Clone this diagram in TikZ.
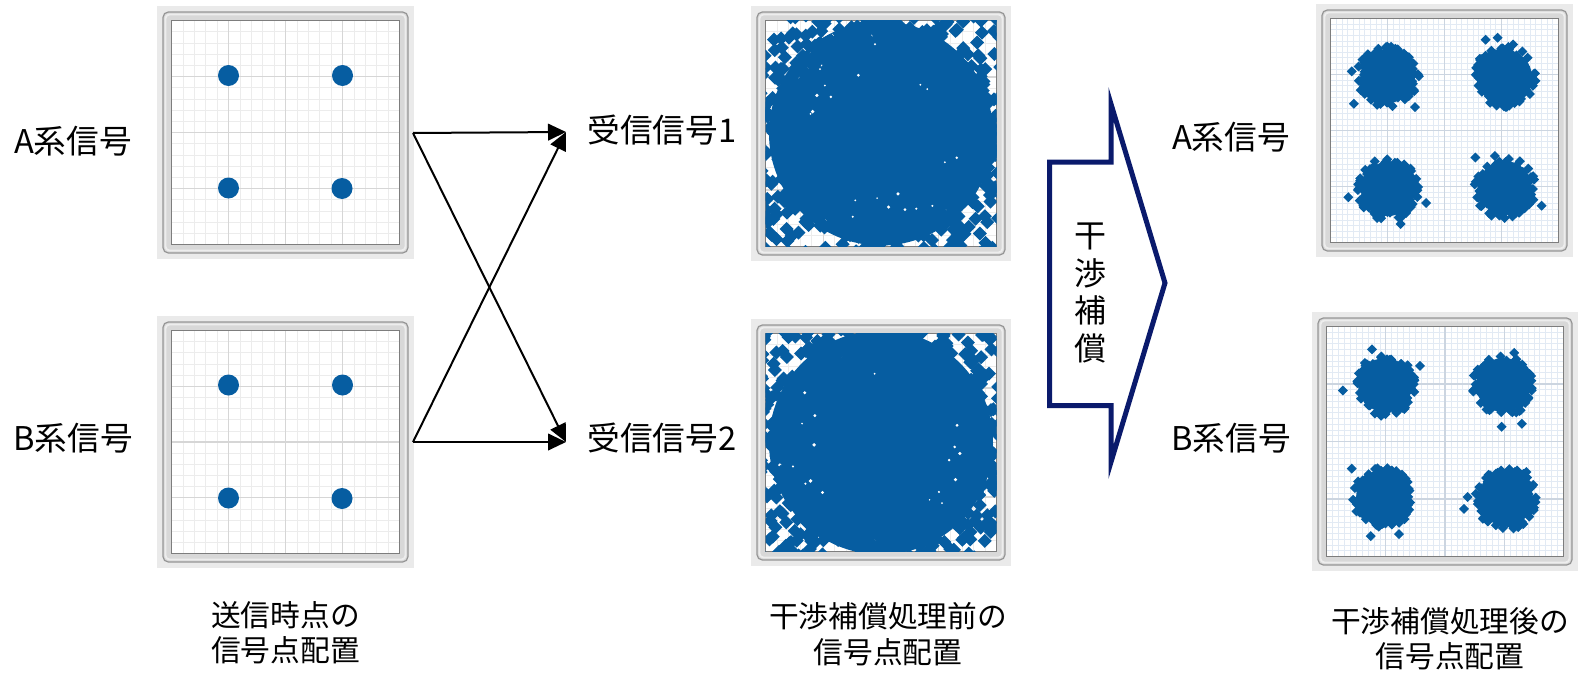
\documentclass[tikz,border=0pt]{standalone}
\usepackage{fontspec}
\setmainfont{Noto Sans CJK JP}
\usetikzlibrary{arrows.meta}
\definecolor{sig}{RGB}{6,93,161}
\definecolor{navy}{RGB}{10,26,108}
\definecolor{bgray}{RGB}{234,234,234}
\definecolor{fgray}{RGB}{216,216,216}
\definecolor{fedge}{RGB}{150,150,150}
\definecolor{iedge}{RGB}{125,125,125}
\definecolor{gminA}{RGB}{236,236,236}
\definecolor{gmajA}{RGB}{214,214,214}
\definecolor{gminB}{RGB}{226,234,244}
\definecolor{gmajB}{RGB}{204,213,224}
\tikzset{
  lab/.style={inner sep=0pt, font={\fontsize{24.5pt}{29pt}\selectfont}},
  bot/.style={inner sep=0pt, align=center, font={\fontsize{22.3pt}{26.5pt}\selectfont}},
  conn/.style={line width=1.5pt, -{Triangle[length=13.5pt,width=12.5pt]}},
  bigarrow/.style={draw=navy, line width=3.75pt, line join=miter, fill=white}
}
% frame x1 y1 x2 y2, divisions, minor colour, major colour
\newcommand\plotbox[7]{%
  \pgfmathsetmacro\pxa{#1+8.5}\pgfmathsetmacro\pya{#2+8.5}%
  \pgfmathsetmacro\pxb{#3-8.5}\pgfmathsetmacro\pyb{#4-8.5}%
  \pgfmathtruncatemacro\nm{#5-1}%
  \fill[bgray] ({#1-6},{#2-6}) rectangle ({#3+6},{#4+6});
  \draw[fedge,fill=fgray,line width=0.9pt,rounded corners=4pt] (#1,#2) rectangle (#3,#4);
  \draw[white!55!fgray,line width=1.4pt,rounded corners=3pt] ({#1+2.5},{#2+2.5}) rectangle ({#3-2.5},{#4-2.5});
  \fill[white] (\pxa,\pya) rectangle (\pxb,\pyb);
  \foreach \i in {1,...,\nm}{
    \pgfmathsetmacro\gx{\pxa+(\pxb-\pxa)*\i/#5}
    \pgfmathsetmacro\gy{\pya+(\pyb-\pya)*\i/#5}
    \draw[#6,line width=0.5pt] (\gx,\pya) -- (\gx,\pyb);
    \draw[#6,line width=0.5pt] (\pxa,\gy) -- (\pxb,\gy);
  }
  \foreach \i in {1,2,3}{
    \pgfmathsetmacro\gx{\pxa+(\pxb-\pxa)*\i/4}
    \pgfmathsetmacro\gy{\pya+(\pyb-\pya)*\i/4}
    \draw[#7,line width=0.9pt] (\gx,\pya) -- (\gx,\pyb);
    \draw[#7,line width=0.9pt] (\pxa,\gy) -- (\pxb,\gy);
  }
  \draw[iedge,line width=0.8pt] (\pxa,\pya) rectangle (\pxb,\pyb);
}
\newcommand\dm[3]{\fill[sig] ({#1},{#2}) +(#3,0) -- +(0,#3) -- +(-#3,0) -- +(0,-#3) -- cycle;}
\newcommand\cluster[2]{%
  \fill[sig] (#1,#2) circle (27);
  \foreach \k in {1,...,110}{
    \pgfmathsetmacro\ang{360*rnd}
    \pgfmathsetmacro\rad{19+12*rnd}
    \dm{#1+\rad*cos(\ang)}{#2+\rad*sin(\ang)}{5}
  }
  \foreach \k in {1,...,3}{
    \pgfmathsetmacro\ang{360*rnd}
    \pgfmathsetmacro\rad{33+12*rnd}
    \dm{#1+\rad*cos(\ang)}{#2+\rad*sin(\ang)}{5}
  }
}
\newcommand\noise[2]{%
  \fill[sig] (#1,#2) circle (112);
  \foreach \k in {1,...,35}{
    \pgfmathsetmacro\ang{360*rnd}
    \pgfmathsetmacro\rad{60+60*rnd}
    \pgfmathsetmacro\sz{0.8+1.2*rnd}
    \fill[white] ({#1+\rad*cos(\ang)},{#2+\rad*sin(\ang)}) circle (\sz);
  }
  \foreach \k in {1,...,760}{
    \pgfmathsetmacro\ang{360*rnd}
    \pgfmathsetmacro\rad{95+90*rnd^1.3}
    \dm{#1+\rad*cos(\ang)}{#2+\rad*sin(\ang)}{7}
  }
}
\begin{document}
\begin{tikzpicture}[x=0.75pt,y=-0.75pt]
\pgfmathsetseed{11}
\useasboundingbox (0,0) rectangle (1586,678);
\fill[white] (0,0) rectangle (1586,678);

% transmit plots
\plotbox{163}{12}{408}{253}{20}{gminA}{gmajA}
\foreach \cx/\cy in {228.5/75.5, 342.5/75.5, 228.5/188, 342/188.5}{\fill[sig] (\cx,\cy) circle (10.5);}
\plotbox{163}{322}{408}{562}{20}{gminA}{gmajA}
\foreach \cx/\cy in {228.5/385, 342.5/385, 228.5/498, 342/498.5}{\fill[sig] (\cx,\cy) circle (10.5);}

% received plots
\plotbox{757}{12}{1005}{255}{20}{gminA}{gmajA}
\begin{scope}
  \clip (\pxa,\pya) rectangle (\pxb,\pyb);
  \noise{881}{133.5}
\end{scope}
\plotbox{757}{325}{1005}{560}{20}{gminA}{gmajA}
\begin{scope}
  \clip (\pxa,\pya) rectangle (\pxb,\pyb);
  \noise{881}{442.5}
\end{scope}

% compensated plots
\plotbox{1322}{10}{1567}{251}{40}{gminB}{gmajB}
\begin{scope}
  \clip (\pxa,\pya) rectangle (\pxb,\pyb);
  \cluster{1388}{76}
  \cluster{1505}{77}
  \cluster{1388}{189}
  \cluster{1505}{188}
\end{scope}
\plotbox{1318}{318}{1572}{565}{40}{gminB}{gmajB}
\begin{scope}
  \clip (\pxa,\pya) rectangle (\pxb,\pyb);
  \cluster{1385}{385}
  \cluster{1503}{385}
  \cluster{1383}{498}
  \cluster{1506}{499}
\end{scope}

% labels
\node[lab] (la) at (73,141) {A系信号};
\node[lab] (lb) at (73,438) {B系信号};
\node[lab] (r1) at (662,130) {受信信号1};
\node[lab] (r2) at (662,438) {受信信号2};
\node[lab] (ra) at (1231,137) {A系信号};
\node[lab] (rb) at (1231,438) {B系信号};

% crossing connectors
\coordinate (s1) at (413,133);
\coordinate (s2) at (413,442);
\coordinate (e1) at (566,132);
\coordinate (e2) at (566,442);
\draw[conn] (s1) -- (e1);
\draw[conn] (s1) -- (e2);
\draw[conn] (s2) -- (e2);
\draw[conn] (s2) -- (e1);

% block arrow
\draw[bigarrow] (1049.5,162) -- (1111,162) -- (1111,104) -- (1165,283) -- (1111,462) -- (1111,405.5) -- (1049.5,405.5) -- cycle;
\node[inner sep=0pt, align=center, font={\fontsize{24pt}{28.3pt}\selectfont}] (kw) at (1090,293) {干\\渉\\補\\償};

% captions
\node[bot] (c1) at (285.5,633) {送信時点の\\信号点配置};
\node[bot] (c2) at (888,634) {干渉補償処理前の\\信号点配置};
\node[bot] (c3) at (1450,639) {干渉補償処理後の\\信号点配置};
\end{tikzpicture}
\end{document}
